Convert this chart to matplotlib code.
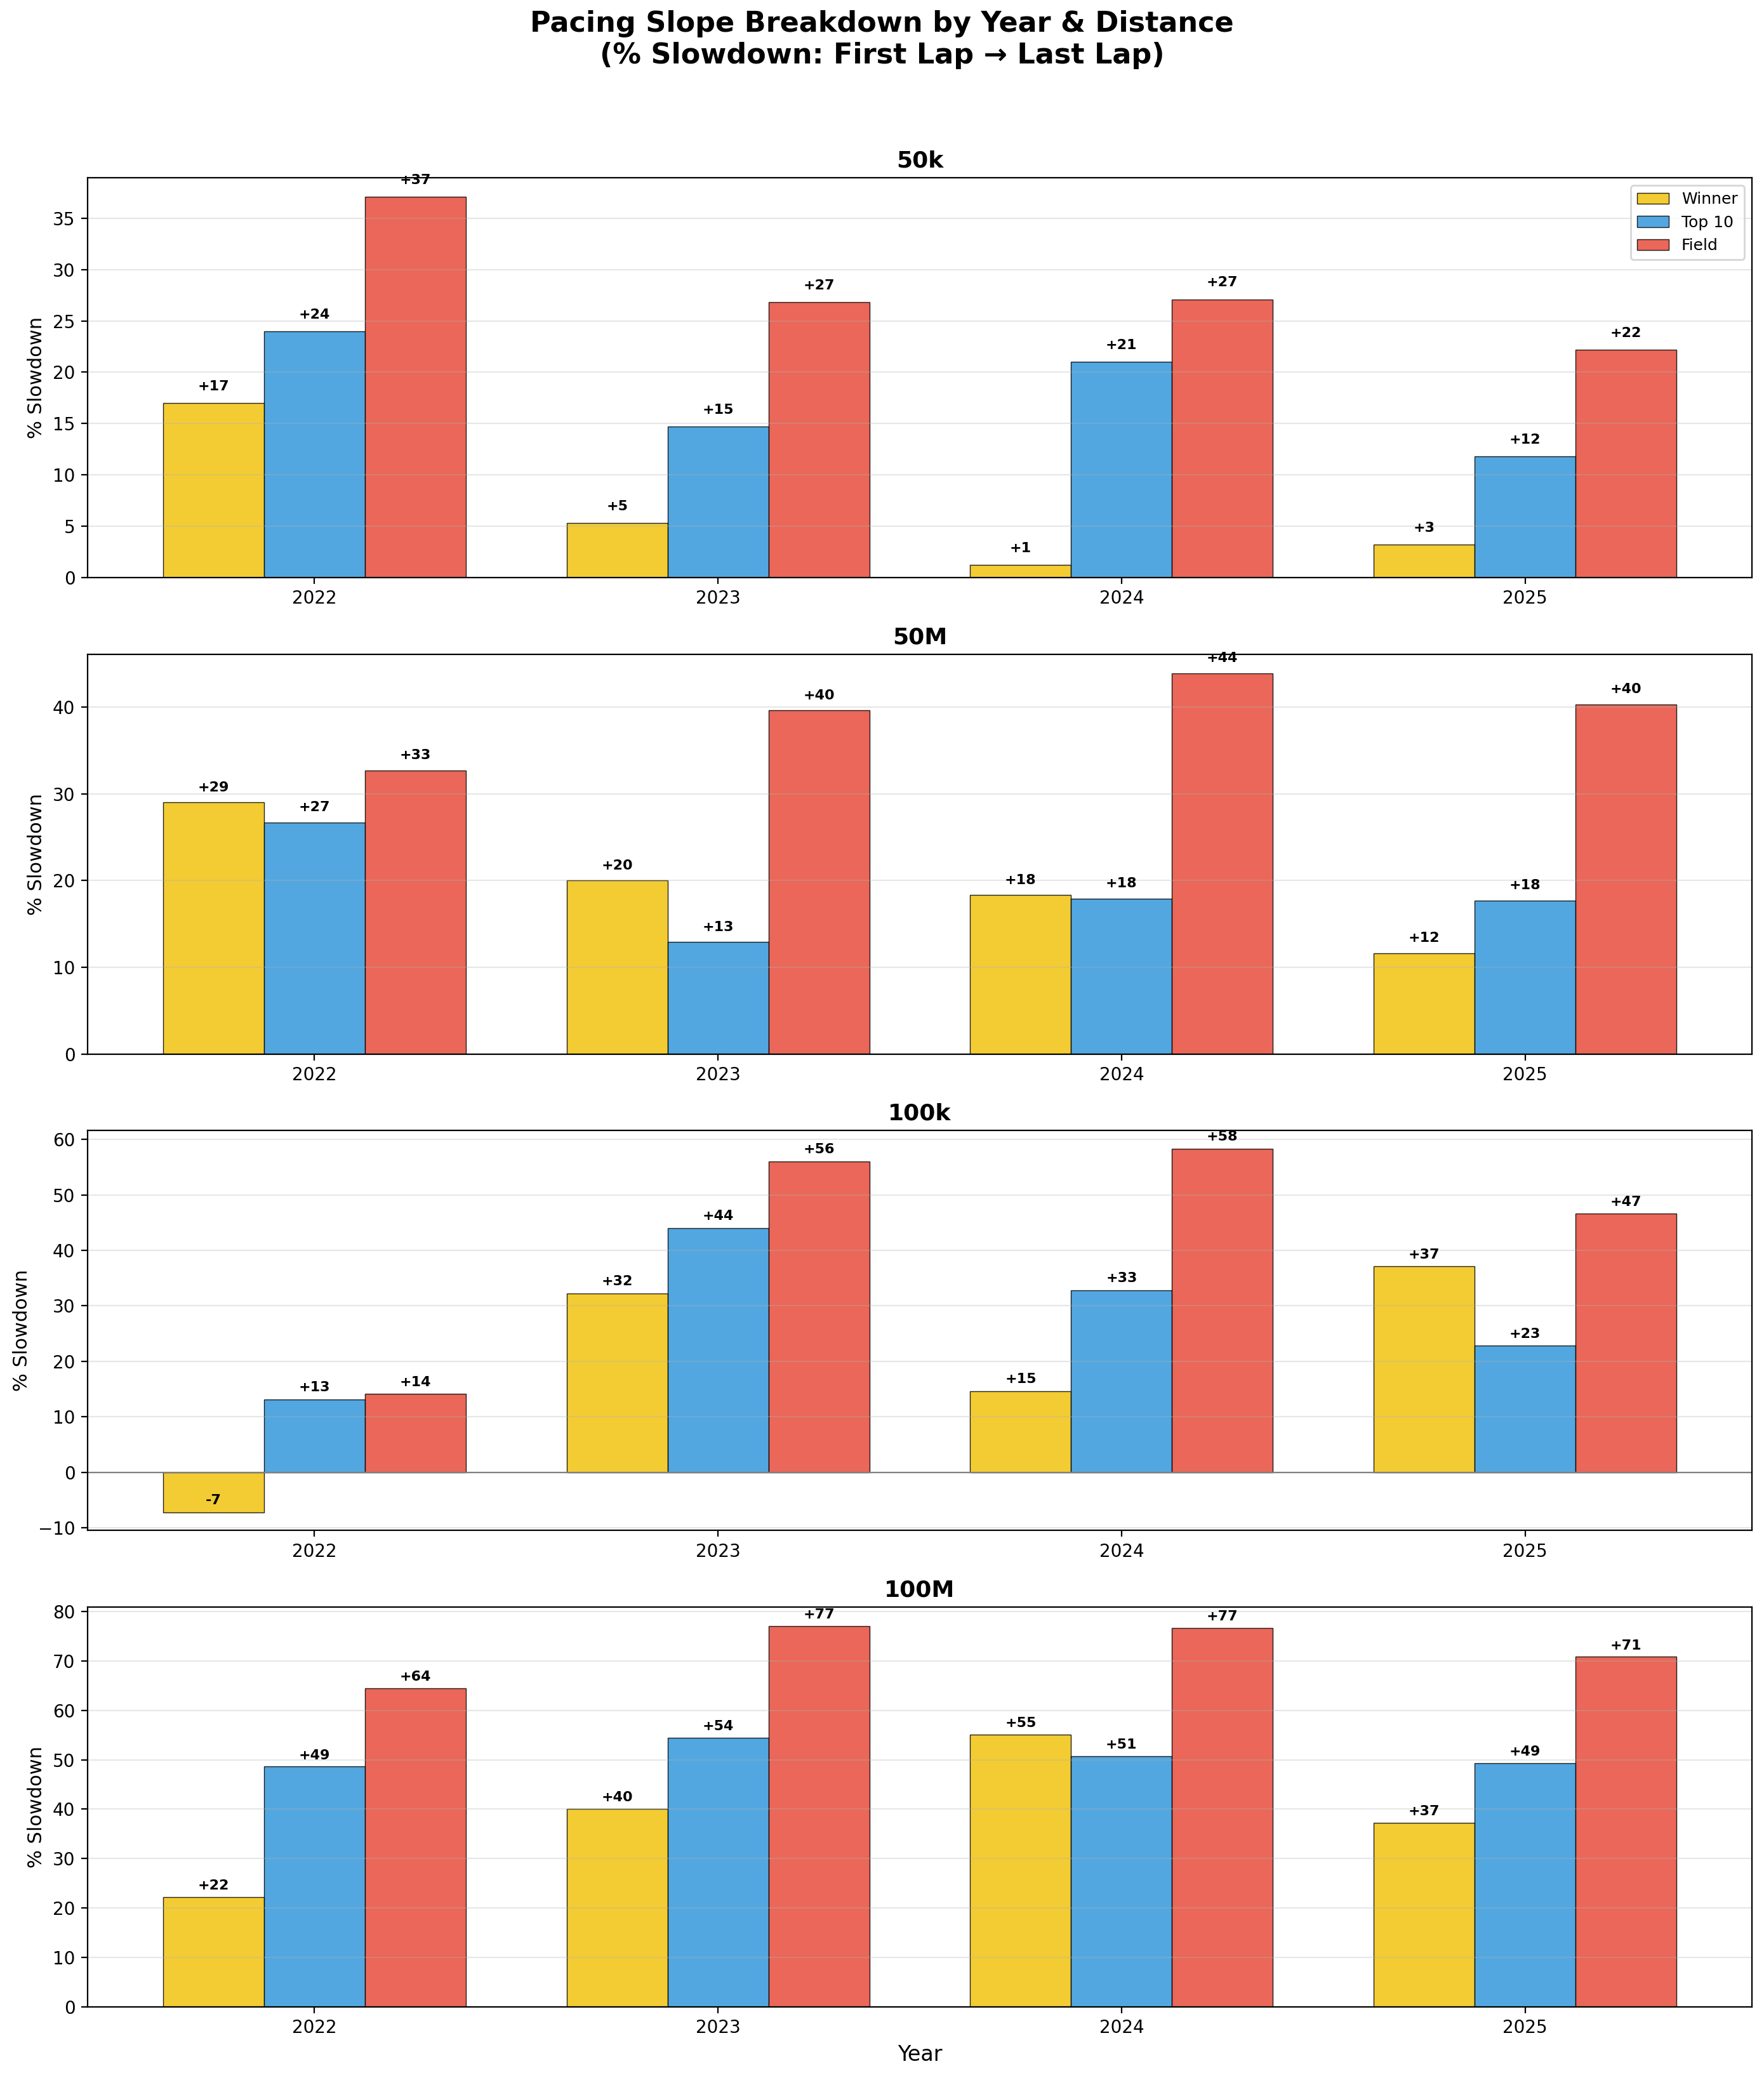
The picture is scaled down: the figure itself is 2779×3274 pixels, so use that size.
"""
Pacing slope breakdown: % slowdown first lap -> last lap, by year and distance
"""
import numpy as np
import matplotlib
matplotlib.use("Agg")
import matplotlib.pyplot as plt

years = ["2022", "2023", "2024", "2025"]
distances = ["50k", "50M", "100k", "100M"]
groups = ["Winner", "Top 10", "Field"]

# % slowdown per distance, one value per year
winner = {
    "50k": [17.0, 5.3, 1.2, 3.2],
    "50M": [29.0, 20.0, 18.3, 11.6],
    "100k": [-7.2, 32.2, 14.6, 37.1],
    "100M": [22.2, 40.1, 55.1, 37.2],
}
top10 = {
    "50k": [24.0, 14.7, 21.0, 11.8],
    "50M": [26.7, 12.9, 17.9, 17.7],
    "100k": [13.1, 44.0, 32.8, 22.8],
    "100M": [48.6, 54.4, 50.7, 49.3],
}
field = {
    "50k": [37.1, 26.8, 27.1, 22.2],
    "50M": [32.7, 39.6, 43.9, 40.3],
    "100k": [14.1, 56.0, 58.3, 46.6],
    "100M": [64.5, 77.0, 76.7, 70.8],
}

colors = ["#F1C40F", "#3498DB", "#E74C3C"]

fig, axes = plt.subplots(4, 1, figsize=(13.895, 16.37), dpi=200)
fig.subplots_adjust(left=0.0496, right=0.9932, top=0.9145, bottom=0.0342, hspace=0.192)

x = np.arange(len(years))
width = 0.25

for ax, dist in zip(axes, distances):
    series = [winner[dist], top10[dist], field[dist]]
    for i, (vals, name, col) in enumerate(zip(series, groups, colors)):
        bars = ax.bar(x + (i - 1) * width, vals, width, label=name, color=col,
                      alpha=0.85, edgecolor="black", linewidth=0.5)
        # value labels sit one unit above the bar end
        for b, v in zip(bars, vals):
            ax.text(b.get_x() + b.get_width() / 2, v + 1, f"{v:+.0f}",
                    ha="center", va="bottom", fontsize=8, fontweight="bold")

    if min(min(s) for s in series) < 0:
        ax.axhline(0, color="gray", linewidth=0.8)

    ax.set_title(dist, fontsize=13, fontweight="bold")
    ax.set_ylabel("% Slowdown", fontsize=11)
    ax.set_xticks(x)
    ax.set_xticklabels(years)
    ax.grid(True, axis="y", alpha=0.3)

axes[0].legend(loc="upper right", fontsize=9)
axes[-1].set_xlabel("Year", fontsize=12)

fig.suptitle("Pacing Slope Breakdown by Year & Distance\n(% Slowdown: First Lap → Last Lap)",
             fontsize=16, fontweight="bold", y=0.995)

fig.savefig("out.png", dpi=200)
plt.close(fig)
